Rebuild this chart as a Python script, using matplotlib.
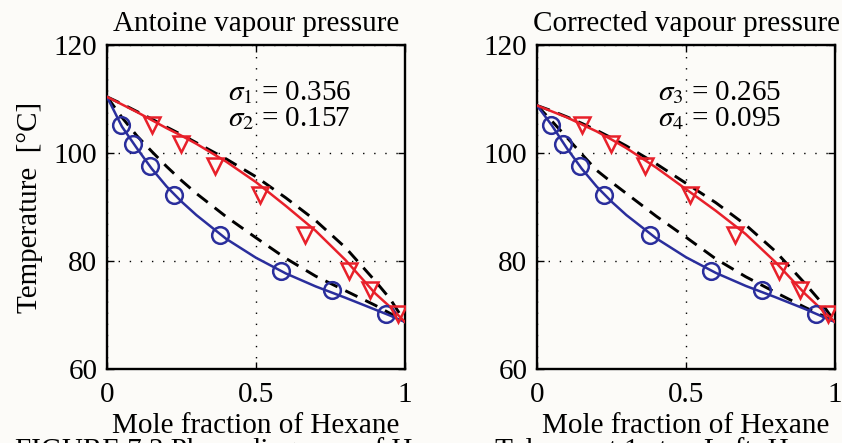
import matplotlib.pyplot as plt

plt.rcParams["font.family"] = ["Liberation Serif", "DejaVu Serif"]
plt.rcParams["mathtext.fontset"] = "stix"

# experimental points (same in both panels)
x_liq = [0.046, 0.088, 0.143, 0.225, 0.379, 0.584, 0.754, 0.936]
y_vap = [0.152, 0.249, 0.364, 0.512, 0.666, 0.811, 0.884, 0.978]
T_exp = [105.2, 101.6, 97.6, 92.2, 84.9, 78.2, 74.7, 70.1]

# model curves
xc = [0, 0.05, 0.1, 0.15, 0.2, 0.25, 0.3, 0.4, 0.5, 0.6, 0.7, 0.8, 0.9, 0.95, 1.0]

# left: Antoine vapour pressure
bub_left = [110.4, 104.9, 100.9, 97.1, 93.8, 91.0, 88.5, 84.1, 80.6, 77.7, 75.3, 73.2, 71.0, 69.9, 68.7]
dew_left = [110.4, 109.0, 107.6, 106.1, 104.6, 103.2, 101.7, 98.4, 94.6, 90.2, 85.6, 80.2, 74.0, 71.5, 68.7]
bub_ideal_left = [110.4, 106.6, 103.2, 100.3, 97.5, 94.9, 92.5, 88.2, 84.3, 80.5, 77.2, 74.5, 71.8, 70.3, 68.7]
dew_ideal_left = [110.4, 109.1, 107.7, 106.3, 104.8, 103.4, 101.9, 98.9, 95.6, 91.7, 87.5, 82.5, 76.3, 73.0, 68.7]

# right: corrected vapour pressure
bub_right = [108.8, 105.1, 100.9, 97.1, 93.8, 91.0, 88.5, 84.2, 80.7, 77.8, 75.4, 73.3, 71.1, 69.9, 68.7]
dew_right = [108.8, 107.7, 106.6, 105.3, 104.0, 102.5, 100.9, 97.3, 93.3, 89.3, 85.0, 79.8, 73.9, 71.3, 68.7]
bub_ideal_right = [108.8, 105.9, 102.9, 99.8, 96.8, 94.6, 92.5, 88.3, 84.4, 80.4, 77.1, 74.2, 71.4, 70.1, 68.7]
dew_ideal_right = [108.8, 107.8, 106.7, 105.5, 104.2, 102.8, 101.3, 98.0, 94.4, 90.8, 86.7, 81.8, 75.8, 72.6, 68.7]

titles = ["Antoine vapour pressure", "Corrected vapour pressure"]
sigma_text = ["$\\sigma_1$ = 0.356\n$\\sigma_2$ = 0.157",
              "$\\sigma_3$ = 0.265\n$\\sigma_4$ = 0.095"]

blue = "#2a2e9c"
red = "#e8202a"
bg = "#fcfbf8"

fig = plt.figure(figsize=(8.42, 4.43), dpi=100, facecolor=bg)
ax1 = fig.add_axes([0.1271, 0.167, 0.3539, 0.7314])
ax2 = fig.add_axes([0.6378, 0.167, 0.3539, 0.7314])

curves = [(bub_left, dew_left, bub_ideal_left, dew_ideal_left),
          (bub_right, dew_right, bub_ideal_right, dew_ideal_right)]

for i, ax in enumerate([ax1, ax2]):
    bub, dew, bub_i, dew_i = curves[i]
    ax.set_facecolor(bg)
    ax.plot(xc, bub_i, color="black", lw=2.1, dashes=(4.6, 3.0), zorder=2)
    ax.plot(xc, dew_i, color="black", lw=2.1, dashes=(4.6, 3.0), zorder=2)
    ax.plot(xc, bub, color=blue, lw=1.8, zorder=3)
    ax.plot(xc, dew, color=red, lw=1.8, zorder=3)
    ax.plot(x_liq, T_exp, "o", ms=12, mfc="none", mec=blue, mew=1.8, zorder=4)
    ax.plot(y_vap, T_exp, "v", ms=12, mfc="none", mec=red, mew=1.8, zorder=4)
    ax.set_xlim(0, 1)
    ax.set_ylim(60, 120)
    ax.set_xticks([0, 0.5, 1])
    ax.set_xticklabels(["0", "0.5", "1"])
    ax.set_yticks([60, 80, 100, 120])
    ax.grid(True, color="black", linestyle=(0, (1, 7)), lw=1)
    ax.tick_params(direction="in", length=5, width=1, top=True, right=True,
                   labelsize=21)
    ax.tick_params(axis="x", pad=9)
    ax.tick_params(axis="y", pad=7)
    for s in ax.spines.values():
        s.set_linewidth(1.7)
    ax.set_title(titles[i], fontsize=21, pad=10)
    ax.set_xlabel("Mole fraction of Hexane", fontsize=21, labelpad=4)
    ax.text(0.405, 108.8, sigma_text[i], fontsize=21, va="center",
            linespacing=0.95)

ax1.set_ylabel("Temperature  [°C]", fontsize=21, labelpad=8)

# caption of the source figure, mostly cut off at the bottom edge
fig.text(0.018, -0.033, "FIGURE 7.3 Phase diagrams of Hexane–Toluene at 1 atm. Left: Hexane–Cyclohexane",
         fontsize=21, va="baseline")

fig.savefig("out.png", dpi=100, facecolor=bg)
